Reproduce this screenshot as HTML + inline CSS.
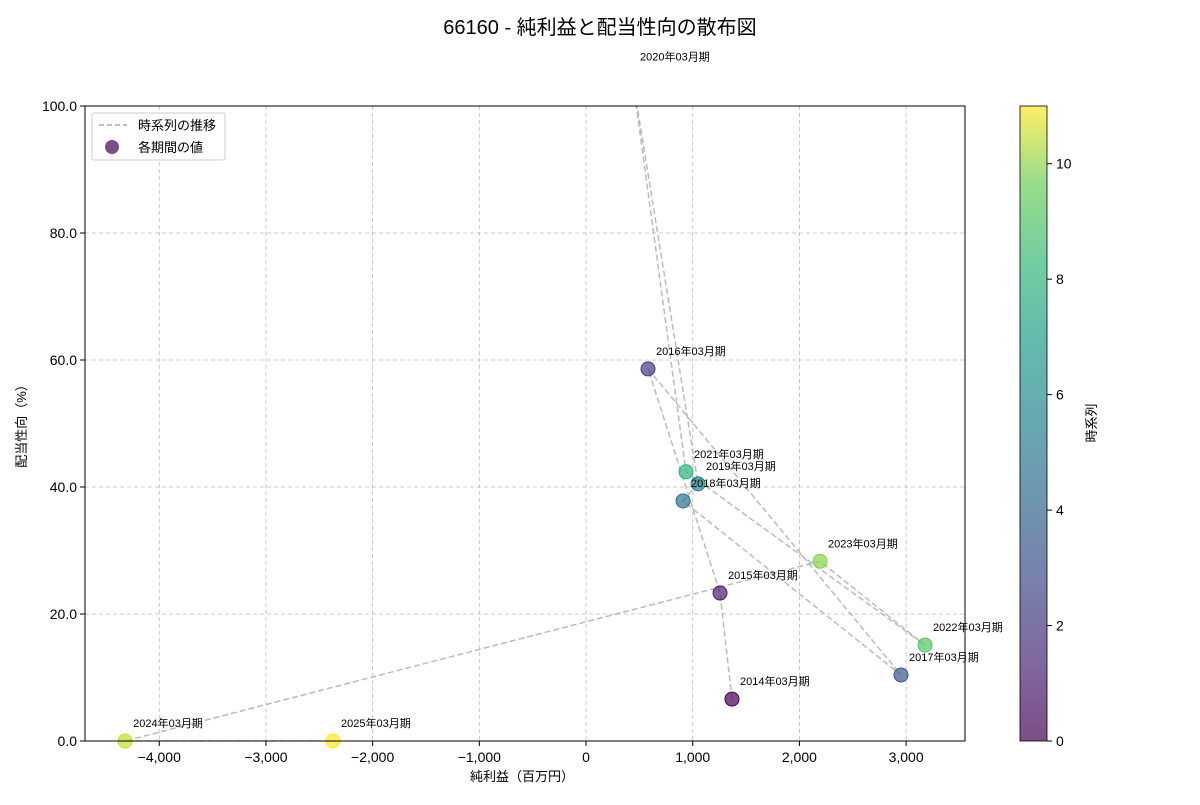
<!DOCTYPE html>
<html><head><meta charset="utf-8"><style>
body{margin:0;background:#fff;}
svg{font-family:"Liberation Sans","Noto Sans CJK JP",sans-serif;}
</style></head><body>
<svg id="chart" width="1200" height="800" xmlns="http://www.w3.org/2000/svg">
<defs>
<clipPath id="clip"><rect x="85" y="106" width="880" height="635"/></clipPath>
<linearGradient id="vir" x1="0" y1="1" x2="0" y2="0">
<stop offset="0" stop-color="#440154"/><stop offset="0.13" stop-color="#482878"/><stop offset="0.25" stop-color="#3e4989"/><stop offset="0.38" stop-color="#31688e"/><stop offset="0.5" stop-color="#26828e"/><stop offset="0.63" stop-color="#1f9e89"/><stop offset="0.75" stop-color="#35b779"/><stop offset="0.88" stop-color="#6ece58"/><stop offset="1" stop-color="#fde725"/>
</linearGradient>
</defs>
<text x="600" y="34" text-anchor="middle" font-size="20">66160 - 純利益と配当性向の散布図</text>
<g id="grid"></g>
<g id="lines" clip-path="url(#clip)"></g>
<g id="points"></g>
<g id="labels" font-size="11"></g>
<rect x="85" y="106" width="880" height="635" fill="none" stroke="#000" stroke-width="1"/>
<g id="axes" font-size="14"></g>
<text x="522" y="781" text-anchor="middle" font-size="13">純利益（百万円）</text>
<text transform="translate(26,423) rotate(-90)" text-anchor="middle" font-size="13">配当性向（%）</text>
<g>
<rect x="92" y="113" width="133" height="47" fill="#fff" fill-opacity="0.8" stroke="#ccc" rx="2"/>
<line x1="99" y1="125" x2="127" y2="125" stroke="#aaa" stroke-dasharray="5,3" stroke-width="1.5"/>
<text x="138" y="130" font-size="13">時系列の推移</text>
<circle cx="112" cy="147" r="7" fill="#440154" fill-opacity="0.7"/>
<text x="138" y="152" font-size="13">各期間の値</text>
</g>
<rect x="1020" y="106" width="27" height="635" fill="url(#vir)" opacity="0.7"/>
<rect x="1020" y="106" width="27" height="635" fill="none" stroke="#000" stroke-width="0.8"/>
<g id="cbar" font-size="14"></g>
<text transform="translate(1096,423) rotate(-90)" text-anchor="middle" font-size="13">時系列</text>
</svg>
<script>
const periods=["2014年03月期","2015年03月期","2016年03月期","2017年03月期","2018年03月期","2019年03月期","2020年03月期","2021年03月期","2022年03月期","2023年03月期","2024年03月期","2025年03月期"];
const netIncome=[1368,1256,581,2952,909,1050,431,937,3177,2193,-4320,-2371];
const payoutRatio=[6.6,23.3,58.6,10.4,37.8,40.5,105,42.4,15.1,28.3,0,0];
const xTicks=[-4000,-3000,-2000,-1000,0,1000,2000,3000];
const yTicks=[0,20,40,60,80,100];
const cTicks=[0,2,4,6,8,10];
const NS="http://www.w3.org/2000/svg";
const X0=85,X1=965,Y0=741,Y1=106,xmin=-4696,xmax=3552,ymin=0,ymax=100;
const sx=v=>X0+(v-xmin)/(xmax-xmin)*(X1-X0);
const sy=v=>Y0-(v-ymin)/(ymax-ymin)*(Y0-Y1);
const stops=[[68,1,84],[72,40,120],[62,73,137],[49,104,142],[38,130,142],[31,158,137],[53,183,121],[110,206,88],[181,222,43],[253,231,37]];
function vir(t){const p=t*(stops.length-1),i=Math.min(Math.floor(p),stops.length-2),f=p-i;const c=stops[i].map((a,k)=>Math.round(a+(stops[i+1][k]-a)*f));return `rgb(${c})`;}
function mk(tag,attrs,parent,txt){const e=document.createElementNS(NS,tag);for(const k in attrs)e.setAttribute(k,attrs[k]);if(txt!==undefined)e.textContent=txt;document.getElementById(parent).appendChild(e);return e;}
xTicks.forEach(v=>{const x=sx(v);
const g=mk('line',{x1:x,x2:x,y1:Y1,y2:Y0,stroke:'#bbb','stroke-dasharray':'4,3','stroke-width':0.8},'grid');


mk('line',{x1:x,x2:x,y1:Y0,y2:Y0+5,stroke:'#000'},'axes');
const t=mk('text',{x:x,y:Y0+21,'text-anchor':'middle'},'axes',v.toLocaleString('en-US').replace('-','−'));

});
yTicks.forEach(v=>{const y=sy(v);
const g=mk('line',{x1:X0,x2:X1,y1:y,y2:y,stroke:'#bbb','stroke-dasharray':'4,3','stroke-width':0.8},'grid');


mk('line',{x1:X0-5,x2:X0,y1:y,y2:y,stroke:'#000'},'axes');
const t=mk('text',{x:X0-8,y:y+5,'text-anchor':'end'},'axes',v.toFixed(1));

});
const n=periods.length;
const cy=v=>741-v/(n-1)*635;
cTicks.forEach(v=>{const y=cy(v);
mk('line',{x1:1047,x2:1052,y1:y,y2:y,stroke:'#000'},'cbar');
const t=mk('text',{x:1056,y:y+5},'cbar',String(v));

});
const pts=netIncome.map((v,i)=>sx(v)+','+sy(payoutRatio[i])).join(' ');
const pl=mk('polyline',{points:pts,fill:'none',stroke:'#aaa','stroke-width':1.5,'stroke-dasharray':'6,3','stroke-opacity':0.8},'lines');


netIncome.forEach((v,i)=>{const x=sx(v),y=sy(payoutRatio[i]);
if(payoutRatio[i]<=ymax){
const c=mk('circle',{cx:x,cy:y,r:7,fill:vir(i/(n-1)),'fill-opacity':0.7,stroke:vir(i/(n-1))},'points');

}
const t=mk('text',{x:x+8,y:y-14},'labels',periods[i]);

});
</script>
</body></html>
